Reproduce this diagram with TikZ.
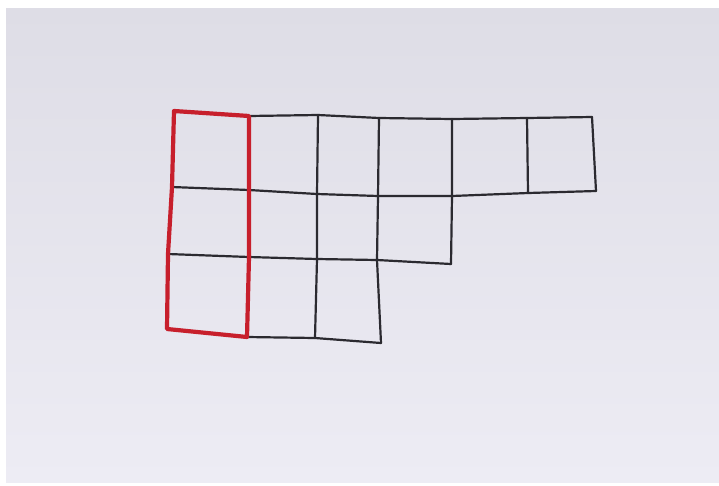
\documentclass[tikz,border=0pt]{standalone}
\usetikzlibrary{calc}
\definecolor{paperTop}{HTML}{DEDDE6}
\definecolor{paperBot}{HTML}{EDECF4}
\definecolor{ink}{HTML}{2B2A30}
\definecolor{redink}{HTML}{C71F2C}
\tikzset{
  gridline/.style={draw=ink, line width=2.2pt, line join=round, line cap=round},
  redline/.style={draw=redink, line width=4.2pt, line join=round, line cap=round},
}
\begin{document}
\begin{tikzpicture}[x=1pt,y=-1pt]
\useasboundingbox (0,0) rectangle (719,485);
\fill[white] (0,0) rectangle (719,485);
\shade[top color=paperTop, bottom color=paperBot] (6,8) rectangle (719,482);
% grid points: row r, column c
\coordinate (a0) at (174,111); \coordinate (a1) at (249,116); \coordinate (a2) at (318,115);
\coordinate (a3) at (379,118); \coordinate (a4) at (452,119); \coordinate (a5) at (527,118);
\coordinate (a6) at (592,117);
\coordinate (b0) at (172,187); \coordinate (b1) at (249,190); \coordinate (b2) at (317,194);
\coordinate (b3) at (378,196); \coordinate (b4) at (452,196); \coordinate (b5) at (528,193);
\coordinate (b6) at (596,191);
\coordinate (c0) at (168,254); \coordinate (c1) at (249,257); \coordinate (c2) at (317,259);
\coordinate (c3) at (377,260); \coordinate (c4) at (451,264);
\coordinate (d0) at (167,329); \coordinate (d1) at (247,337); \coordinate (d2) at (315,338);
\coordinate (d3) at (381,343);
% horizontal lines
\draw[gridline] (a0) -- (a1) -- (a2) -- (a3) -- (a4) -- (a5) -- (a6);
\draw[gridline] (b0) -- (b1) -- (b2) -- (b3) -- (b4) -- (b5) -- (b6);
\draw[gridline] (c0) -- (c1) -- (c2) -- (c3) -- (c4);
\draw[gridline] (d0) -- (d1) -- (d2) -- (d3);
% vertical lines
\draw[gridline] (a0) -- (b0) -- (c0) -- (d0);
\draw[gridline] (a1) -- (b1) -- (c1) -- (d1);
\draw[gridline] (a2) -- (b2) -- (c2) -- (d2);
\draw[gridline] (a3) -- (b3) -- (c3) -- (d3);
\draw[gridline] (a4) -- (b4) -- (c4);
\draw[gridline] (a5) -- (b5);
\draw[gridline] (a6) -- (b6);
% red first column
\draw[redline] (a0) -- (a1) -- (b1) -- (c1) -- (d1) -- (d0) -- (c0) -- (b0) -- cycle;
\end{tikzpicture}
\end{document}
